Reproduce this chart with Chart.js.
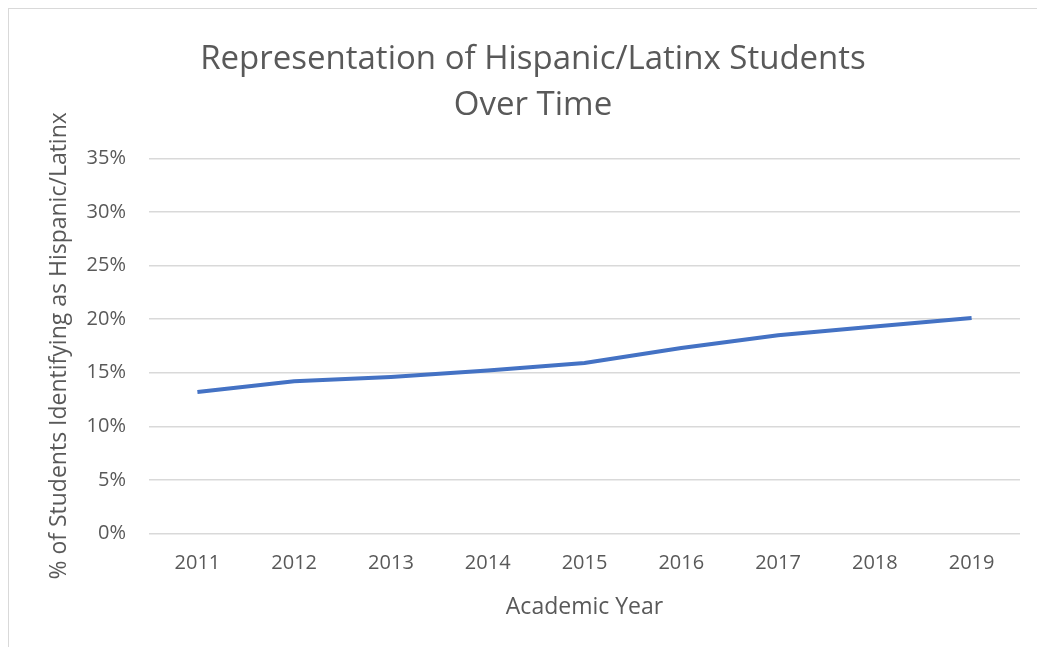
<!DOCTYPE html>
<html>
<head>
<meta charset="utf-8">
<script src="https://cdn.jsdelivr.net/npm/chart.js@4"></script>
<style>
  body { margin: 0; background: #fff; overflow: hidden; }
  #frame { position: absolute; left: 8px; top: 8px; width: 1040px; height: 650px; border: 1px solid #d9d9d9; }
  #chart { position: absolute; left: 0; top: 0; }
</style>
</head>
<body>
<div id="frame"></div>
<canvas id="chart" width="1037" height="647"></canvas>
<script>
// academic years and the share of students (percent)
var years = ['2011', '2012', '2013', '2014', '2015', '2016', '2017', '2018', '2019'];
var hispanicPct = [13.2, 14.2, 14.6, 15.2, 15.9, 17.3, 18.5, 19.3, 20.1];
var yTicks = [0, 5, 10, 15, 20, 25, 30, 35];

var grey = '#595959';
var fontName = "'Open Sans', sans-serif";

var ctx = document.getElementById('chart').getContext('2d');
var chart = new Chart(ctx, {
    type: 'line',
    data: {
        labels: years,
        datasets: [{
            label: 'Hispanic/Latinx',
            data: hispanicPct,
            borderColor: '#4472C4',
            borderWidth: 4,
            pointRadius: 0,
            tension: 0,
            fill: false
        }]
    },
    options: {
        responsive: false,
        animation: false,
        layout: { padding: { left: 46, right: 17, top: 22, bottom: 26 } },
        plugins: {
            legend: { display: false },
            tooltip: { enabled: false },
            title: {
                display: true,
                text: ['Representation of Hispanic/Latinx Students', 'Over Time'],
                color: grey,
                font: { family: fontName, size: 33, weight: 'normal', lineHeight: 1.4 },
                padding: { top: 14, bottom: 30 }
            }
        },
        scales: {
            x: {
                offset: true,
                grid: { display: false, drawTicks: false },
                border: { display: false },
                ticks: { color: grey, font: { family: fontName, size: 20 }, padding: 18 },
                title: {
                    display: true, text: 'Academic Year', color: grey,
                    font: { family: fontName, size: 23 }, padding: { top: 0, bottom: 0 }
                }
            },
            y: {
                min: 0,
                max: 35,
                afterBuildTicks: function (axis) {
                    axis.ticks = yTicks.map(function (v) { return { value: v }; });
                },
                // tick padding is counted twice in the width, take one back off
                afterFit: function (axis) {
                    axis.width -= 23;
                },
                grid: { color: '#d9d9d9', lineWidth: 1.5, drawTicks: false },
                border: { display: false },
                ticks: {
                    color: grey, font: { family: fontName, size: 20 }, padding: 23,
                    callback: function (v) { return v + '%'; }
                },
                title: {
                    display: true, text: '% of Students Identifying as Hispanic/Latinx', color: grey,
                    font: { family: fontName, size: 23 }, padding: { top: 0, bottom: 13 }
                }
            }
        }
    }
});
</script>
</body>
</html>
